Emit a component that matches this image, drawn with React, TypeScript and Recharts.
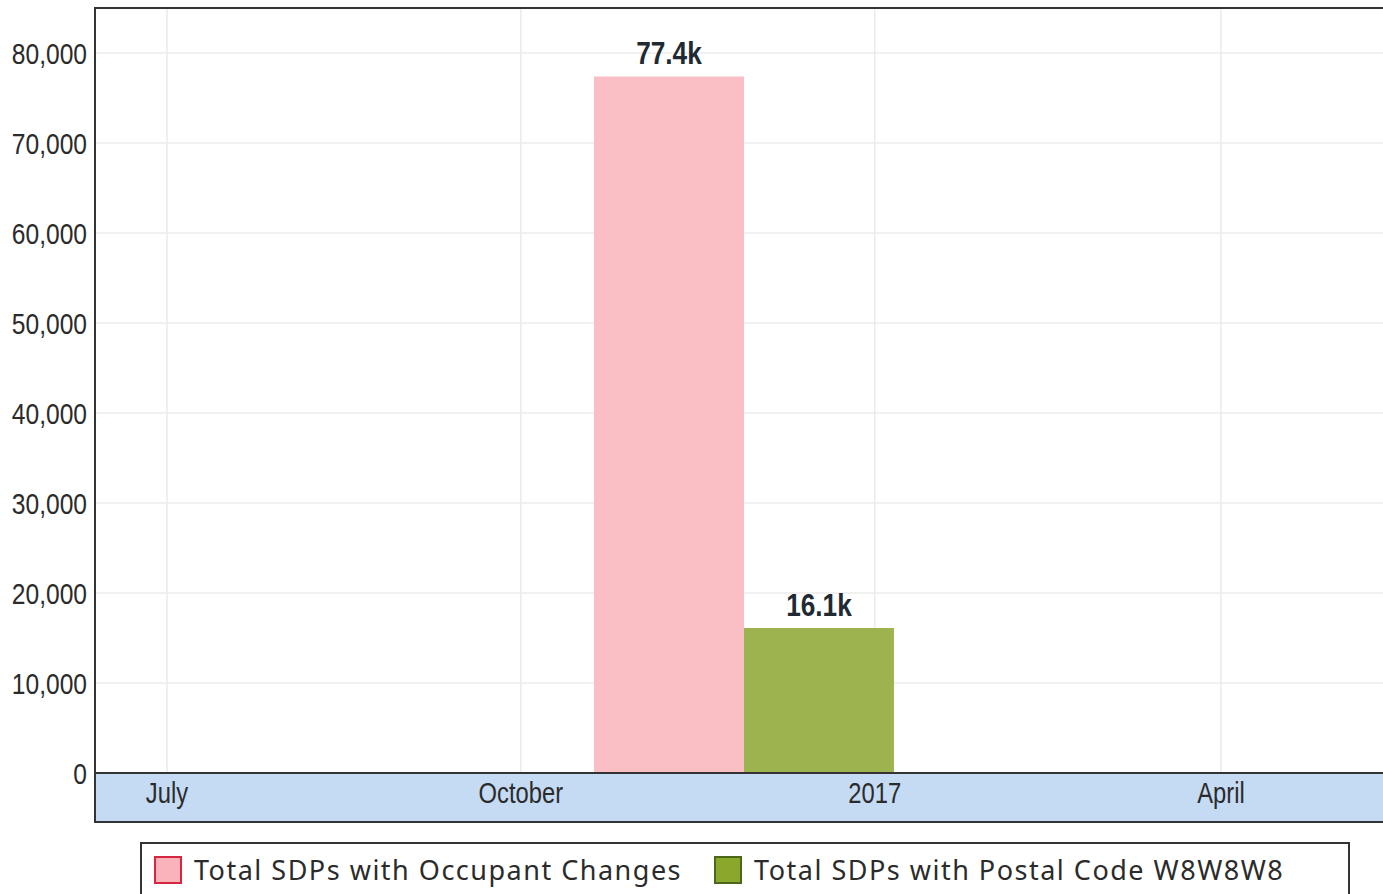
import {
  BarChart,
  Bar,
  XAxis,
  YAxis,
  CartesianGrid,
  LabelList,
} from "recharts";

// days counted from 1 July 2016
const PERIOD_DAYS = [150];
const OCCUPANT_CHANGES = [77400];
const POSTAL_W8W8W8 = [16100];

const X_TICKS = [0, 92, 184, 274];
const X_TICK_LABELS = ["July", "October", "2017", "April"];
const X_DOMAIN = [-18.7, 316.9];

const Y_TICKS = [0, 10000, 20000, 30000, 40000, 50000, 60000, 70000, 80000];
const Y_MAX = 85000;

const SERIES_NAMES = [
  "Total SDPs with Occupant Changes",
  "Total SDPs with Postal Code W8W8W8",
];

const chartData = PERIOD_DAYS.map((day, i) => ({
  day,
  occupant: OCCUPANT_CHANGES[i],
  postal: POSTAL_W8W8W8[i],
}));

// no Arial Narrow here, so squeeze Liberation Sans horizontally
const FONT = '"Liberation Sans", Arial, sans-serif';
const SQUEEZE = 0.82;
const TEXT_COLOR = "#2b2b2b";

const W = 1390;
const H = 824;
const PLOT_LEFT = 95;
const PLOT_TOP = 8;
const AXIS_H = 49;
const ZERO_Y = H - 2 - AXIS_H;

const fmtK = (v: number) => `${(v / 1000).toFixed(1)}k`;
const fmtThousands = (v: number) => v.toLocaleString("en-US");

function NarrowText({ x, y, anchor, dy, size, weight, fill, children }: any) {
  return (
    <g transform={`translate(${x},${y})`}>
      <text
        transform={`scale(${SQUEEZE},1)`}
        textAnchor={anchor}
        dy={dy}
        fontSize={size}
        fontWeight={weight}
        fontFamily={FONT}
        fill={fill}
      >
        {children}
      </text>
    </g>
  );
}

function XTick({ x, y, payload }: any) {
  const label = X_TICK_LABELS[X_TICKS.indexOf(payload.value)] ?? "";
  return (
    <NarrowText x={x} y={y} anchor="middle" dy="0.71em" size={29} fill={TEXT_COLOR}>
      {label}
    </NarrowText>
  );
}

function YTick({ x, y, payload }: any) {
  return (
    <NarrowText x={x} y={y} anchor="end" dy="0.355em" size={30} fill={TEXT_COLOR}>
      {fmtThousands(payload.value)}
    </NarrowText>
  );
}

function BarLabel({ x, y, width, value }: any) {
  return (
    <NarrowText
      x={Number(x) + Number(width) / 2}
      y={Number(y) - 12}
      anchor="middle"
      dy="0"
      size={32}
      weight={700}
      fill="#1f2a33"
    >
      {fmtK(Number(value))}
    </NarrowText>
  );
}

function Legend() {
  const items = [
    { name: SERIES_NAMES[0], fill: "#fbb3bb", border: "#d3283f" },
    { name: SERIES_NAMES[1], fill: "#8aa82b", border: "#4c661a" },
  ];
  return (
    <div
      style={{
        position: "absolute",
        left: 140,
        top: 842,
        width: 1210,
        height: 70,
        boxSizing: "border-box",
        border: "2px solid #333",
        display: "flex",
        alignItems: "flex-start",
        paddingTop: 12,
        paddingLeft: 12,
        fontFamily: '"Noto Sans", "Open Sans", sans-serif',
        fontSize: 27,
        letterSpacing: 1.5,
        color: TEXT_COLOR,
      }}
    >
      {items.map((it, i) => (
        <div
          key={it.name}
          style={{ display: "flex", alignItems: "center", marginRight: i === 0 ? 32 : 0 }}
        >
          <span
            style={{
              display: "inline-block",
              width: 28,
              height: 28,
              boxSizing: "border-box",
              background: it.fill,
              border: `2px solid ${it.border}`,
              marginRight: 12,
            }}
          />
          <span style={{ lineHeight: "28px" }}>{it.name}</span>
        </div>
      ))}
    </div>
  );
}

export default function App() {
  return (
    <div
      style={{
        position: "absolute",
        left: 0,
        top: 0,
        width: 1383,
        height: 894,
        overflow: "hidden",
        background: "#fff",
      }}
    >
      {/* blue band behind the x axis */}
      <div
        style={{
          position: "absolute",
          left: PLOT_LEFT,
          top: ZERO_Y,
          width: W,
          height: AXIS_H,
          background: "#c5daf3",
        }}
      />
      <div style={{ position: "absolute", left: 0, top: 0 }}>
        <BarChart
          width={W}
          height={H}
          data={chartData}
          margin={{ top: PLOT_TOP, right: 4, left: 0, bottom: 2 }}
          barGap={0}
        >
          <CartesianGrid stroke="#ebebeb" strokeWidth={1.5} />
          <XAxis
            dataKey="day"
            type="number"
            domain={X_DOMAIN}
            allowDataOverflow
            ticks={X_TICKS}
            height={AXIS_H}
            tickSize={0}
            tickMargin={9}
            axisLine={{ stroke: "#333", strokeWidth: 2 }}
            tick={<XTick />}
          />
          <YAxis
            type="number"
            domain={[0, Y_MAX]}
            ticks={Y_TICKS}
            width={PLOT_LEFT}
            tickSize={0}
            tickMargin={8}
            axisLine={false}
            tick={<YTick />}
          />
          <Bar
            dataKey="occupant"
            name={SERIES_NAMES[0]}
            fill="#f9bfc5"
            barSize={150}
            isAnimationActive={false}
          >
            <LabelList dataKey="occupant" content={<BarLabel />} />
          </Bar>
          <Bar
            dataKey="postal"
            name={SERIES_NAMES[1]}
            fill="#9cb34f"
            barSize={150}
            isAnimationActive={false}
          >
            <LabelList dataKey="postal" content={<BarLabel />} />
          </Bar>
        </BarChart>
      </div>
      {/* plot frame */}
      <div
        style={{
          position: "absolute",
          left: PLOT_LEFT - 1,
          top: PLOT_TOP - 1,
          width: W,
          height: ZERO_Y + AXIS_H - PLOT_TOP + 2,
          boxSizing: "border-box",
          border: "2px solid #333",
          pointerEvents: "none",
        }}
      />
      <Legend />
    </div>
  );
}
